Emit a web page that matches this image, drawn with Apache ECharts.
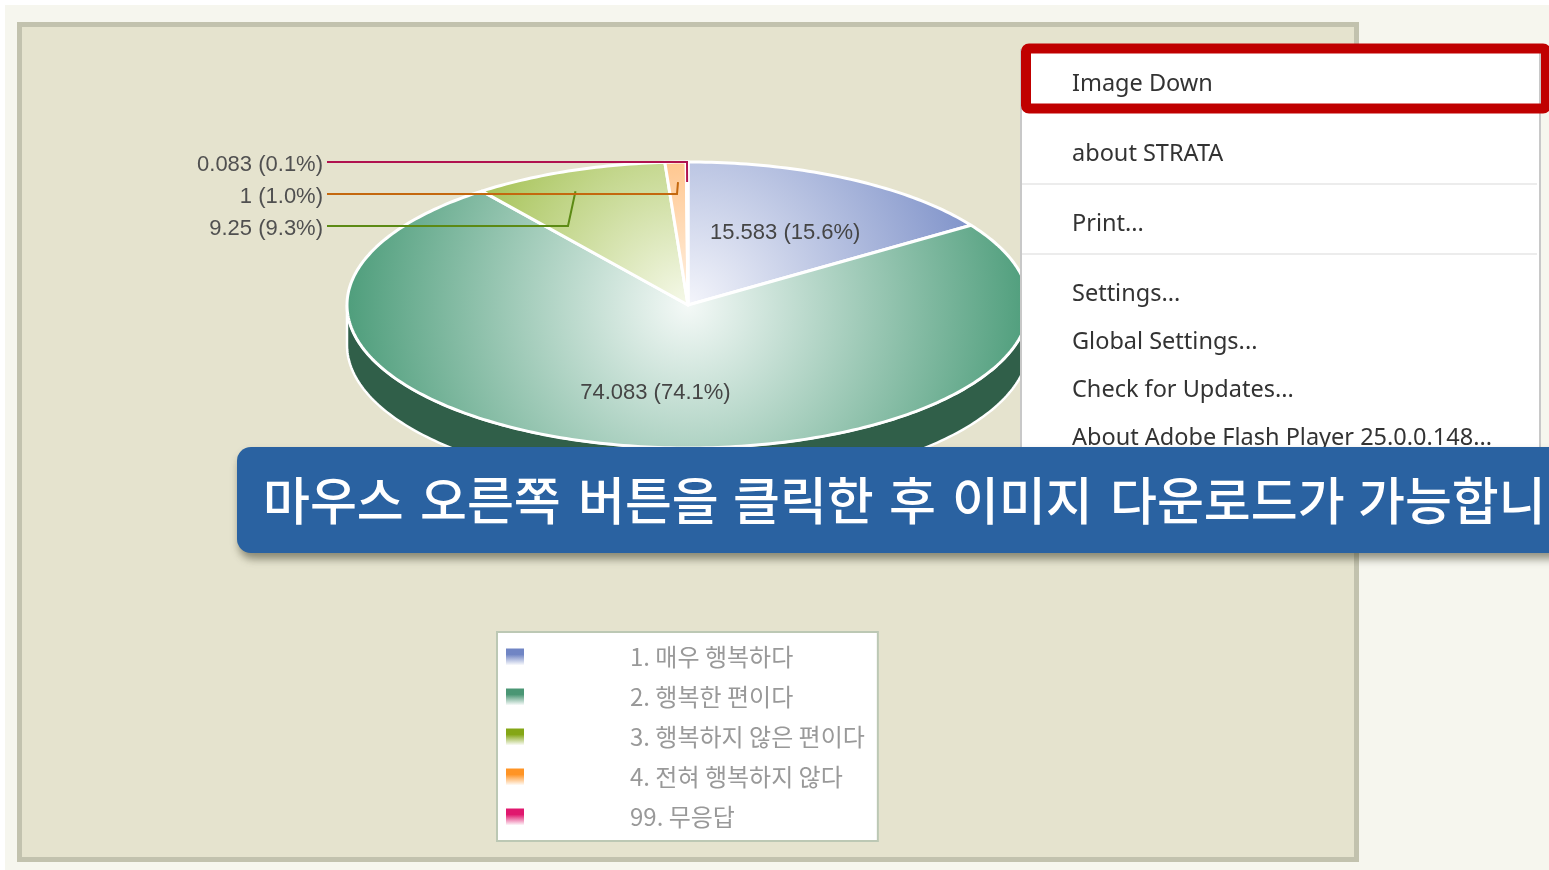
<!DOCTYPE html>
<html>
<head>
<meta charset="utf-8">
<style>html,body{margin:0;padding:0;background:#fff;overflow:hidden}#c{width:1549px;height:870px}</style>
<script src="https://cdn.jsdelivr.net/npm/echarts@6/dist/echarts.min.js"></script>
</head>
<body>
<div id="c"></div>
<script>
const categories = ['1. 매우 행복하다', '2. 행복한 편이다', '3. 행복하지 않은 편이다', '4. 전혀 행복하지 않다', '99. 무응답'];
const values = [15.583, 74.083, 9.25, 1, 0.083];
const percentLabels = ['15.6%', '74.1%', '9.3%', '1.0%', '0.1%'];
const outerColors = ['#6e84c2', '#4f9e7c', '#83ab16', '#ff8a18', '#e0186e'];
const innerColors = ['#f4f5fb', '#f4f9f7', '#f6f9ea', '#fff3e6', '#fde8f0'];
const legendColors = ['#7085c4', '#4a9674', '#84a616', '#ff9424', '#e0186e'];
const leaderColors = [null, null, '#5c8a14', '#c4680e', '#b0124f'];
const menuItems = ['Image Down', 'about STRATA', 'Print...', 'Settings...', 'Global Settings...', 'Check for Updates...', 'About Adobe Flash Player 25.0.0.148...'];
const menuRows = [84, 154, 224, 294, 342, 390, 438];
const bannerWords = ['마우스', '오른쪽', '버튼을', '클릭한', '후', '이미지', '다운로드가', '가능합니'];
const bannerWordX = [263, 420, 578, 733, 889, 952, 1110, 1358];

const pieBox = { cx: 688, cy: 305, rx: 341, ry: 143, depth: 40 };
const outerLeaders = {
  2: { y: 226, kneeX: 568, fx: 0.94, fy: 0.85 },
  3: { y: 194, kneeX: 677, fx: 0.80, fy: 0.86 },
  4: { y: 162, kneeX: 687, fx: 1, fy: 0.86 }
};
const total = values.reduce((a, b) => a + b, 0);

function pointAt(deg, fx, fy, dy) {
  const a = deg * Math.PI / 180;
  return [pieBox.cx + pieBox.rx * fx * Math.sin(a), pieBox.cy - pieBox.ry * fy * Math.cos(a) + (dy || 0)];
}
function arc(from, to, dy) {
  const pts = [];
  const n = Math.max(2, Math.ceil((to - from) / 1));
  for (let i = 0; i <= n; i++) pts.push(pointAt(from + (to - from) * i / n, 1, 1, dy));
  return pts;
}
function makeRender(idx) {
  return function (params, api) {
    const v = api.value(0);
    let before = 0;
    for (let i = 0; i < idx; i++) before += values[i];
    const start = before / total * 360, end = (before + v) / total * 360, mid = (start + end) / 2;
    const kids = [];
    const s0 = Math.max(start, 90), s1 = Math.min(end, 270);
    if (s1 > s0) {
      kids.push({
        type: 'polygon',
        shape: { points: arc(s0, s1, 0).concat(arc(s0, s1, pieBox.depth).reverse()) },
        style: { fill: '#305f49', stroke: '#fff', lineWidth: 2.5 }
      });
    }
    kids.push({
      type: 'polygon',
      shape: { points: [[pieBox.cx, pieBox.cy]].concat(arc(start, end, 0)) },
      style: {
        fill: {
          type: 'radial', x: pieBox.cx, y: pieBox.cy, r: pieBox.rx, global: true,
          colorStops: [{ offset: 0, color: innerColors[idx] }, { offset: 1, color: outerColors[idx] }]
        },
        stroke: '#fff', lineWidth: 3, lineJoin: 'round'
      }
    });
    const text = v + ' (' + percentLabels[idx] + ')';
    const lead = outerLeaders[idx];
    if (lead) {
      const end2 = pointAt(mid, lead.fx, lead.fy);
      kids.push({
        type: 'polyline',
        shape: { points: [[327, lead.y], [lead.kneeX, lead.y], end2] },
        style: { fill: null, stroke: leaderColors[idx], lineWidth: 2 }
      });
      kids.push({
        type: 'text',
        style: { x: 323, y: lead.y + 2.5, text, align: 'right', verticalAlign: 'middle',
          font: '22px "Liberation Sans", Arial, sans-serif', fill: '#505050' }
      });
    } else {
      const p = pointAt(mid, 0.6, 0.6);
      kids.push({
        type: 'text',
        style: { x: p[0] + 1, y: p[1] + 3.5, text, align: 'center', verticalAlign: 'middle',
          font: '22px "Liberation Sans", Arial, sans-serif', fill: '#454545' }
      });
    }
    return { type: 'group', children: kids };
  };
}

const graphics = [
  { type: 'rect', z: 0, shape: { x: 5, y: 5, width: 1544, height: 865 }, style: { fill: '#f6f6ee' } },
  { type: 'rect', z: 0, shape: { x: 19.5, y: 24.5, width: 1337, height: 835 }, style: { fill: '#e5e3ce', stroke: '#c2c2ae', lineWidth: 5 } },
  { type: 'rect', z: 100, shape: { x: 1021, y: 50, width: 519, height: 410 }, style: { fill: '#fff', stroke: '#c8c8c8', lineWidth: 2 } },
  { type: 'rect', z: 101, shape: { x: 1022, y: 183, width: 515, height: 2 }, style: { fill: '#ececec' } },
  { type: 'rect', z: 101, shape: { x: 1022, y: 253, width: 515, height: 2 }, style: { fill: '#ececec' } },
  { type: 'rect', z: 102, shape: { x: 1026, y: 48.5, width: 520, height: 60, r: 3 }, style: { fill: null, stroke: '#c00000', lineWidth: 10 } }
];
menuItems.forEach((t, i) => graphics.push({
  type: 'text', z: 103,
  style: { x: 1072, y: menuRows[i], text: t, verticalAlign: 'middle', font: '23.5px "Noto Sans", sans-serif', fill: '#333' }
}));
graphics.push({
  type: 'rect', z: 110, shape: { x: 237, y: 447, width: 1400, height: 106, r: 14 },
  style: { fill: '#2a62a1', shadowBlur: 9, shadowOffsetY: 6, shadowOffsetX: 2, shadowColor: 'rgba(60,60,40,0.55)' }
});
bannerWords.forEach((t, i) => graphics.push({
  type: 'text', z: 111,
  style: { x: bannerWordX[i], y: 501, text: t, verticalAlign: 'middle', font: '500 51px "Noto Sans CJK KR", sans-serif', fill: '#fff' }
}));

const chart = echarts.init(document.getElementById('c'), null, { renderer: 'canvas' });
chart.setOption({
  animation: false,
  backgroundColor: '#ffffff',
  graphic: graphics,
  legend: {
    orient: 'vertical', left: 497, top: 632, padding: [13, 13, 12, 9],
    itemWidth: 18, itemHeight: 17, itemGap: 16,
    backgroundColor: '#fff', borderColor: '#bcc8b4', borderWidth: 2,
    selectedMode: false,
    textStyle: { fontFamily: '"Noto Sans CJK KR", sans-serif', fontSize: 24, color: '#999', padding: [0, 0, 0, 101], lineHeight: 24 },
    data: categories.map((name, i) => ({
      name, icon: 'rect',
      itemStyle: { color: { type: 'linear', x: 0, y: 0, x2: 0, y2: 1, colorStops: [{ offset: 0, color: legendColors[i] }, { offset: 0.35, color: legendColors[i] }, { offset: 1, color: '#fff' }] } }
    }))
  },
  series: categories.map((name, i) => ({
    type: 'custom', name, coordinateSystem: 'none',
    itemStyle: { color: legendColors[i] },
    renderItem: makeRender(i),
    data: [[values[i]]]
  }))
});
</script>
</body>
</html>
